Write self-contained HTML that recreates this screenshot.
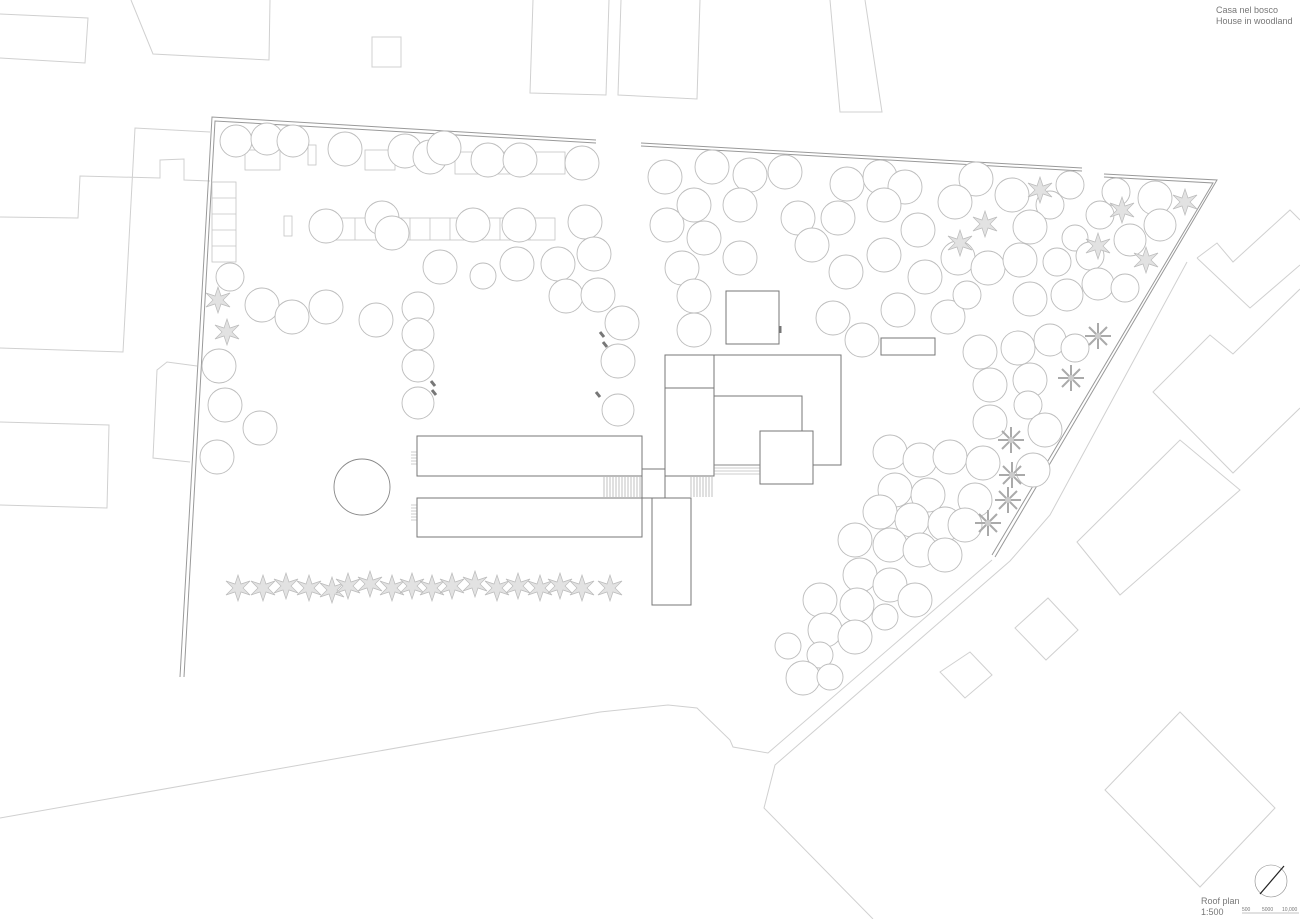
<!DOCTYPE html>
<html><head><style>
body{margin:0;background:#fff;width:1300px;height:919px;overflow:hidden}
svg{display:block}
text{font-family:"Liberation Sans",sans-serif;fill:#777}
</style></head><body>
<svg width="1300" height="919" viewBox="0 0 1300 919" xmlns="http://www.w3.org/2000/svg">
<defs>
<g id="st" stroke="#bbb" stroke-width="0.7" fill="#e2e2e2">
<path d="M0,-13 L3,-4 L12,-7 L5,0 L12,7 L3,4 L0,13 L-3,4 L-12,7 L-5,0 L-12,-7 L-3,-4 Z"/>
</g>
<g id="sp" stroke="#aaa" stroke-width="2">
<path d="M0,-13 V13 M-13,0 H13 M-9,-9 L9,9 M-9,9 L9,-9"/>
<circle r="3" fill="#ccc" stroke="none"/>
</g>
</defs>
<!-- context lines -->
<g stroke="#d0d0d0" stroke-width="1" fill="none">
<polyline points="0,14 88,18 85,63 0,58"/>
<polyline points="131,0 153,54 269,60 270,0"/>
<rect x="372" y="37" width="29" height="30"/>
<polyline points="533,0 530,93 606,95 609,0"/>
<polyline points="621,0 618,95 697,99 700,0"/>
<polyline points="830,0 840,112 882,112 865,0"/>
<polyline points="0,217 78,218 80,176 160,178 160,160 184,159 184,180 210,181"/>
<polyline points="210,132 135,128 123,352 0,348"/>
<polyline points="197,366 167,362 157,370 153,458 190,462"/>
<polyline points="0,422 109,425 107,508 0,505"/>
<polyline points="0,818 600,712 668,705 697,708 730,740 733,747 768,753 992,560"/>
<polyline points="873,919 764,808 775,765 1010,561 1050,515 1187,262"/>
<polyline points="1197,258 1217,243 1233,262 1290,210 1300,220"/>
<polyline points="1197,258 1250,308 1300,265"/>
<polyline points="1300,289 1233,354 1210,335 1153,392 1233,473 1300,408"/>
<polygon points="1077,542 1180,440 1240,490 1120,595"/>
<polygon points="1015,628 1048,598 1078,630 1046,660"/>
<polygon points="940,672 970,652 992,675 965,698"/>
<polygon points="1105,790 1180,712 1275,808 1200,887"/>
</g>
<!-- boundary walls -->
<g stroke="#999" stroke-width="1" fill="none">
<polyline points="596,140 212,117 180,677"/>
<polyline points="596,143 215,121 184,677"/>
<polyline points="641,143 1082,168"/>
<polyline points="641,146 1082,171"/>
<polyline points="1104,174 1217,180 995,557"/>
<polyline points="1104,177 1213,183 992,555"/>
</g>
<!-- parking -->
<g stroke="#c4c4c4" stroke-width="0.8" fill="none">
<rect x="212" y="182" width="24" height="80"/>
<line x1="212" y1="198" x2="236" y2="198"/><line x1="212" y1="214" x2="236" y2="214"/><line x1="212" y1="230" x2="236" y2="230"/><line x1="212" y1="246" x2="236" y2="246"/>
<rect x="245" y="150" width="35" height="20"/><rect x="365" y="150" width="30" height="20"/><rect x="455" y="152" width="110" height="22"/>
<rect x="335" y="218" width="220" height="22"/>
<line x1="355" y1="218" x2="355" y2="240"/><line x1="410" y1="218" x2="410" y2="240"/><line x1="430" y1="218" x2="430" y2="240"/><line x1="450" y1="218" x2="450" y2="240"/><line x1="500" y1="218" x2="500" y2="240"/><line x1="530" y1="218" x2="530" y2="240"/>
<rect x="284" y="216" width="8" height="20"/><rect x="308" y="145" width="8" height="20"/>
</g>
<!-- trees -->
<g stroke="#bcbcbc" stroke-width="0.9" fill="#fff">
<circle cx="236" cy="141" r="16"/><circle cx="267" cy="139" r="16"/><circle cx="293" cy="141" r="16"/><circle cx="345" cy="149" r="17"/><circle cx="405" cy="151" r="17"/><circle cx="430" cy="157" r="17"/><circle cx="444" cy="148" r="17"/><circle cx="488" cy="160" r="17"/><circle cx="520" cy="160" r="17"/><circle cx="582" cy="163" r="17"/>
<circle cx="326" cy="226" r="17"/><circle cx="382" cy="218" r="17"/><circle cx="392" cy="233" r="17"/><circle cx="473" cy="225" r="17"/><circle cx="519" cy="225" r="17"/><circle cx="585" cy="222" r="17"/>
<circle cx="440" cy="267" r="17"/><circle cx="483" cy="276" r="13"/><circle cx="517" cy="264" r="17"/><circle cx="558" cy="264" r="17"/><circle cx="594" cy="254" r="17"/><circle cx="566" cy="296" r="17"/><circle cx="598" cy="295" r="17"/>
<circle cx="230" cy="277" r="14"/><circle cx="262" cy="305" r="17"/><circle cx="292" cy="317" r="17"/><circle cx="326" cy="307" r="17"/><circle cx="376" cy="320" r="17"/><circle cx="418" cy="308" r="16"/><circle cx="418" cy="334" r="16"/><circle cx="418" cy="366" r="16"/><circle cx="418" cy="403" r="16"/>
<circle cx="622" cy="323" r="17"/><circle cx="618" cy="361" r="17"/><circle cx="618" cy="410" r="16"/>
<circle cx="219" cy="366" r="17"/><circle cx="225" cy="405" r="17"/><circle cx="260" cy="428" r="17"/><circle cx="217" cy="457" r="17"/>
<circle cx="362" cy="487" r="28" stroke="#888"/>
<circle cx="665" cy="177" r="17"/><circle cx="712" cy="167" r="17"/><circle cx="750" cy="175" r="17"/><circle cx="785" cy="172" r="17"/><circle cx="847" cy="184" r="17"/><circle cx="880" cy="177" r="17"/><circle cx="905" cy="187" r="17"/><circle cx="976" cy="179" r="17"/><circle cx="1012" cy="195" r="17"/><circle cx="1050" cy="205" r="14"/><circle cx="1070" cy="185" r="14"/>
<circle cx="667" cy="225" r="17"/><circle cx="694" cy="205" r="17"/><circle cx="740" cy="205" r="17"/><circle cx="798" cy="218" r="17"/><circle cx="838" cy="218" r="17"/><circle cx="884" cy="205" r="17"/><circle cx="918" cy="230" r="17"/><circle cx="955" cy="202" r="17"/><circle cx="1030" cy="227" r="17"/><circle cx="1100" cy="215" r="14"/><circle cx="1116" cy="192" r="14"/><circle cx="1155" cy="198" r="17"/><circle cx="1130" cy="240" r="16"/><circle cx="1160" cy="225" r="16"/><circle cx="1075" cy="238" r="13"/>
<circle cx="704" cy="238" r="17"/><circle cx="740" cy="258" r="17"/><circle cx="682" cy="268" r="17"/><circle cx="694" cy="296" r="17"/><circle cx="694" cy="330" r="17"/>
<circle cx="812" cy="245" r="17"/><circle cx="846" cy="272" r="17"/><circle cx="884" cy="255" r="17"/><circle cx="925" cy="277" r="17"/><circle cx="958" cy="258" r="17"/><circle cx="988" cy="268" r="17"/><circle cx="1020" cy="260" r="17"/><circle cx="1057" cy="262" r="14"/><circle cx="1090" cy="256" r="14"/><circle cx="1098" cy="284" r="16"/><circle cx="1125" cy="288" r="14"/>
<circle cx="898" cy="310" r="17"/><circle cx="948" cy="317" r="17"/><circle cx="967" cy="295" r="14"/><circle cx="1030" cy="299" r="17"/><circle cx="1067" cy="295" r="16"/>
<circle cx="833" cy="318" r="17"/><circle cx="862" cy="340" r="17"/><circle cx="980" cy="352" r="17"/><circle cx="1018" cy="348" r="17"/><circle cx="1050" cy="340" r="16"/><circle cx="1075" cy="348" r="14"/>
<circle cx="990" cy="385" r="17"/><circle cx="1030" cy="380" r="17"/><circle cx="1028" cy="405" r="14"/><circle cx="990" cy="422" r="17"/><circle cx="1045" cy="430" r="17"/>
<circle cx="890" cy="452" r="17"/><circle cx="920" cy="460" r="17"/><circle cx="950" cy="457" r="17"/><circle cx="983" cy="463" r="17"/><circle cx="1033" cy="470" r="17"/>
<circle cx="895" cy="490" r="17"/><circle cx="928" cy="495" r="17"/><circle cx="975" cy="500" r="17"/><circle cx="880" cy="512" r="17"/><circle cx="912" cy="520" r="17"/><circle cx="945" cy="524" r="17"/><circle cx="965" cy="525" r="17"/>
<circle cx="855" cy="540" r="17"/><circle cx="890" cy="545" r="17"/><circle cx="920" cy="550" r="17"/><circle cx="945" cy="555" r="17"/>
<circle cx="860" cy="575" r="17"/><circle cx="890" cy="585" r="17"/><circle cx="915" cy="600" r="17"/><circle cx="820" cy="600" r="17"/><circle cx="857" cy="605" r="17"/><circle cx="825" cy="630" r="17"/><circle cx="855" cy="637" r="17"/><circle cx="885" cy="617" r="13"/>
<circle cx="788" cy="646" r="13"/><circle cx="820" cy="655" r="13"/><circle cx="803" cy="678" r="17"/><circle cx="830" cy="677" r="13"/>
</g>
<!-- palms -->
<use href="#st" x="218" y="300"/><use href="#st" x="227" y="332"/><use href="#st" x="985" y="224"/><use href="#st" x="960" y="243"/><use href="#st" x="1040" y="190"/><use href="#st" x="1122" y="210"/><use href="#st" x="1098" y="246"/><use href="#st" x="1146" y="260"/><use href="#st" x="1185" y="202"/>
<use href="#sp" x="1098" y="336"/><use href="#sp" x="1071" y="378"/><use href="#sp" x="1011" y="440"/><use href="#sp" x="1012" y="475"/><use href="#sp" x="1008" y="500"/><use href="#sp" x="988" y="523"/>
<use href="#st" x="238" y="588"/><use href="#st" x="263" y="588"/><use href="#st" x="286" y="586"/><use href="#st" x="309" y="588"/><use href="#st" x="332" y="590"/><use href="#st" x="348" y="586"/><use href="#st" x="370" y="584"/><use href="#st" x="392" y="588"/><use href="#st" x="412" y="586"/><use href="#st" x="432" y="588"/><use href="#st" x="452" y="586"/><use href="#st" x="475" y="584"/><use href="#st" x="497" y="588"/><use href="#st" x="518" y="586"/><use href="#st" x="540" y="588"/><use href="#st" x="560" y="586"/><use href="#st" x="582" y="588"/><use href="#st" x="610" y="588"/>
<!-- buildings -->
<g stroke="#777" stroke-width="1" fill="#fff">
<rect x="726" y="291" width="53" height="53"/>
<rect x="881" y="338" width="54" height="17"/>
<rect x="714" y="355" width="127" height="110"/>
<rect x="714" y="396" width="88" height="69"/>
<rect x="665" y="355" width="49" height="121"/>
<line x1="665" y1="388" x2="714" y2="388"/>
<rect x="760" y="431" width="53" height="53"/>
<rect x="417" y="436" width="225" height="40"/>
<rect x="417" y="498" width="225" height="39"/>
<rect x="642" y="469" width="23" height="29"/>
<rect x="652" y="498" width="39" height="107"/>
</g>
<g stroke="#999" stroke-width="0.6">
<line x1="714" y1="465" x2="760" y2="465"/><line x1="714" y1="468" x2="760" y2="468"/><line x1="714" y1="471" x2="760" y2="471"/><line x1="714" y1="474" x2="760" y2="474"/>
<path d="M604,477 V497 M607,477 V497 M610,477 V497 M613,477 V497 M616,477 V497 M619,477 V497 M622,477 V497 M625,477 V497 M628,477 V497 M631,477 V497 M634,477 V497 M637,477 V497 M640,477 V497"/>
<path d="M691,477 V497 M694,477 V497 M697,477 V497 M700,477 V497 M703,477 V497 M706,477 V497 M709,477 V497 M712,477 V497"/>
<path d="M411,452 h6 M411,455 h6 M411,458 h6 M411,461 h6 M411,464 h6 M411,505 h6 M411,508 h6 M411,511 h6 M411,514 h6 M411,517 h6 M411,520 h6"/>
</g>
<g stroke="#777" stroke-width="3"><line x1="600" y1="332" x2="604" y2="337"/><line x1="603" y1="342" x2="607" y2="347"/><line x1="431" y1="381" x2="435" y2="386"/><line x1="432" y1="390" x2="436" y2="395"/><line x1="596" y1="392" x2="600" y2="397"/><line x1="780" y1="326" x2="780" y2="333"/></g>
<text x="1216" y="13" font-size="9">Casa nel bosco</text>
<text x="1216" y="24" font-size="9">House in woodland</text>
<text x="1201" y="904" font-size="9">Roof plan</text>
<text x="1201" y="915" font-size="9">1:500</text>
<g stroke="#888" stroke-width="0.6" fill="none"><line x1="1242" y1="913" x2="1299" y2="913"/><circle cx="1271" cy="881" r="16"/></g>
<line x1="1260" y1="894" x2="1284" y2="866" stroke="#222" stroke-width="1.2"/>
<text x="1242" y="911" font-size="5">500</text><text x="1262" y="911" font-size="5">5000</text><text x="1282" y="911" font-size="5">10,000</text>
</svg>
</body></html>
